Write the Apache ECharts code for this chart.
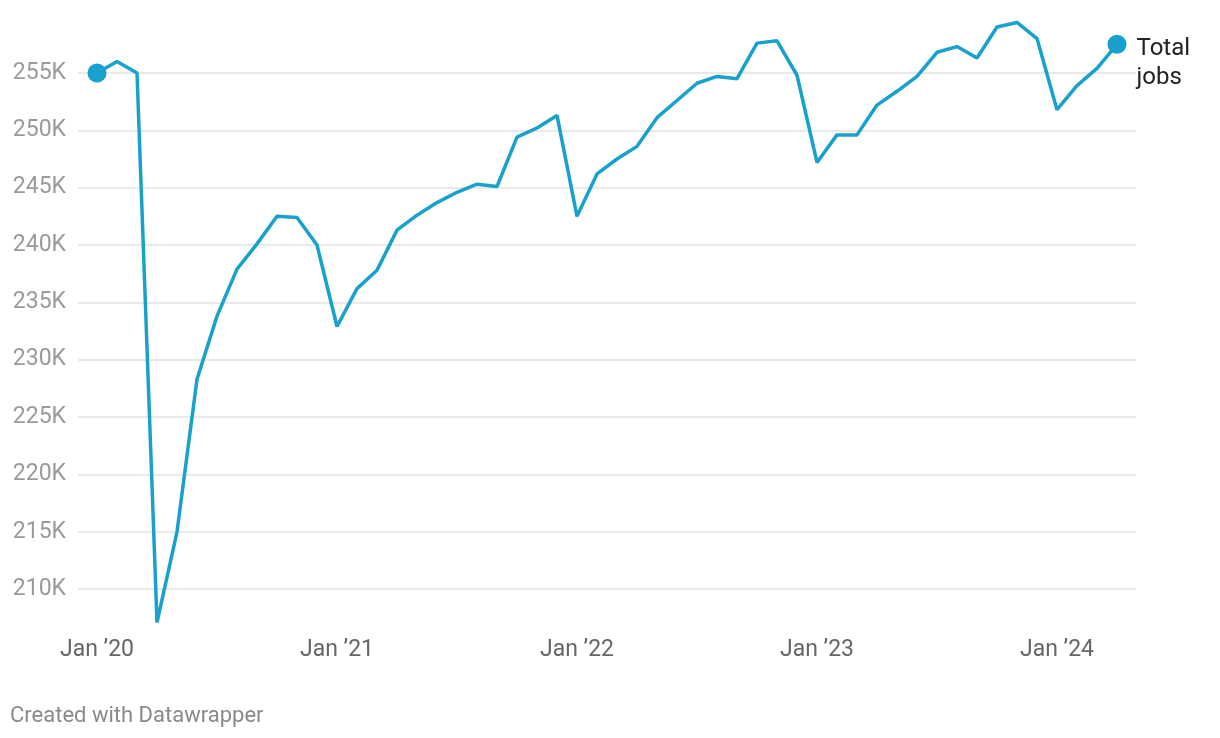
<!DOCTYPE html>
<html>
<head>
<meta charset="utf-8">
<script src="https://cdn.jsdelivr.net/npm/echarts@6/dist/echarts.min.js"></script>
<style>
html,body{margin:0;padding:0;background:#fff;}
#chart{width:1220px;height:738px;}
</style>
</head>
<body>
<div id="chart"></div>
<script>
// Monthly total jobs (thousands), Jan 2020 – Apr 2024
const months = [
  "Jan 2020","Feb 2020","Mar 2020","Apr 2020","May 2020","Jun 2020","Jul 2020","Aug 2020","Sep 2020","Oct 2020","Nov 2020","Dec 2020",
  "Jan 2021","Feb 2021","Mar 2021","Apr 2021","May 2021","Jun 2021","Jul 2021","Aug 2021","Sep 2021","Oct 2021","Nov 2021","Dec 2021",
  "Jan 2022","Feb 2022","Mar 2022","Apr 2022","May 2022","Jun 2022","Jul 2022","Aug 2022","Sep 2022","Oct 2022","Nov 2022","Dec 2022",
  "Jan 2023","Feb 2023","Mar 2023","Apr 2023","May 2023","Jun 2023","Jul 2023","Aug 2023","Sep 2023","Oct 2023","Nov 2023","Dec 2023",
  "Jan 2024","Feb 2024","Mar 2024","Apr 2024"
];
const totalJobs = [
  255.0, 256.0, 255.0, 207.1, 215.0, 228.3, 233.8, 237.9, 240.1, 242.5, 242.4, 240.0,
  232.9, 236.2, 237.8, 241.3, 242.6, 243.7, 244.6, 245.3, 245.1, 249.4, 250.2, 251.3,
  242.5, 246.2, 247.5, 248.6, 251.1, 252.6, 254.1, 254.7, 254.5, 257.6, 257.8, 254.8,
  247.2, 249.6, 249.6, 252.2, 253.4, 254.7, 256.8, 257.3, 256.3, 259.0, 259.4, 258.0,
  251.8, 253.9, 255.4, 257.5
];
const xTickIndex = [0, 12, 24, 36, 48];
const xTickLabels = ["Jan \u201920", "Jan \u201921", "Jan \u201922", "Jan \u201923", "Jan \u201924"];
const seriesName = "Total\njobs";

const chart = echarts.init(document.getElementById('chart'), null, {renderer: 'canvas'});
const lineColor = '#18a1cd';
const last = totalJobs.length - 1;
const seriesData = totalJobs.map((v, i) => {
  const item = {value: [i, v], name: months[i]};
  if (i === 0) {
    item.symbol = 'circle'; item.symbolSize = 19;
  } else if (i === last) {
    item.symbol = 'circle'; item.symbolSize = 19;
    item.label = {
      show: true, position: 'right', distance: 10, offset: [0, 19],
      formatter: seriesName, color: '#222', fontSize: 24, lineHeight: 29,
      fontFamily: 'Roboto', align: 'left'
    };
  } else {
    item.symbol = 'none';
  }
  return item;
});

chart.setOption({
  animation: false,
  backgroundColor: '#fff',
  textStyle: {fontFamily: 'Roboto'},
  title: {
    text: 'Created with Datawrapper',
    left: 10, top: 705, padding: 0,
    textStyle: {fontFamily: 'Roboto', fontSize: 22, fontWeight: 'normal', color: '#8a8a8a'}
  },
  grid: {left: 78, right: 84, top: 15.6, bottom: 738 - 646.5, containLabel: false},
  xAxis: {
    type: 'value',
    min: -0.95, max: last + 0.95,
    axisLine: {show: false},
    axisTick: {show: false},
    splitLine: {show: false},
    axisLabel: {
      customValues: xTickIndex,
      margin: -8,
      color: '#666',
      fontSize: 23,
      fontFamily: 'Roboto',
      formatter: v => {
        const k = xTickIndex.indexOf(Math.round(v));
        return k >= 0 ? xTickLabels[k] : '';
      }
    }
  },
  yAxis: {
    type: 'value',
    min: 205, max: 260, interval: 5,
    axisLine: {show: false},
    axisTick: {show: false},
    splitLine: {show: true, showMinLine: false, showMaxLine: false, lineStyle: {color: '#e2e2e2', width: 1.5}},
    axisLabel: {
      showMinLabel: false, showMaxLabel: false,
      margin: 12, color: '#9a9a9a', fontSize: 23, fontFamily: 'Roboto',
      formatter: v => v + 'K'
    }
  },
  series: [{
    type: 'line',
    name: 'Total jobs',
    data: seriesData,
    showSymbol: true,
    symbol: 'none',
    lineStyle: {color: lineColor, width: 3.5},
    itemStyle: {color: lineColor},
    z: 3
  }]
});
</script>
</body>
</html>
